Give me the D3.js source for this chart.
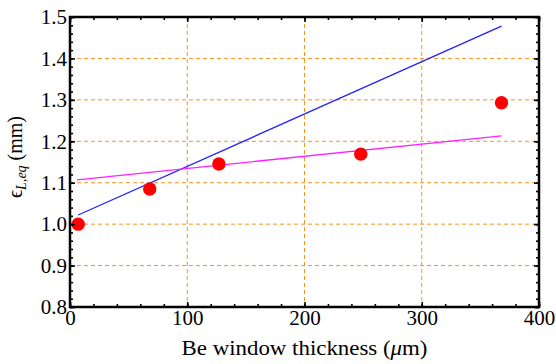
<!DOCTYPE html>
<html><head><meta charset="utf-8">
<script src="https://cdn.jsdelivr.net/npm/d3@7"></script>
<style>body{margin:0;background:#fff}svg{display:block}</style>
</head><body>
<svg id="c" width="556" height="364"></svg>
<script>
const pointX = [7, 68, 127, 248, 368];
const pointY = [1.0, 1.085, 1.145, 1.169, 1.293];
const blueLine = [[7, 1.022], [368, 1.478]];
const magentaLine = [[6, 1.107], [368, 1.213]];
const xTicks = [0, 100, 200, 300, 400];
const yTicks = [0.8, 0.9, 1.0, 1.1, 1.2, 1.3, 1.4, 1.5];
const xGrid = [100, 200, 300];
const yGrid = [0.9, 1.0, 1.1, 1.2, 1.3, 1.4];

const svg = d3.select("#c");
const L = 70, R = 539, T = 17, B = 307;
const x = d3.scaleLinear().domain([0, 400]).range([L, R]);
const y = d3.scaleLinear().domain([0.8, 1.5]).range([B, T]);
const font = "'Liberation Serif', 'Times New Roman', serif";
const grid = "#f7941d";

// grid
svg.append("g").selectAll("line").data(xGrid).join("line")
  .attr("x1", d => x(d)).attr("x2", d => x(d)).attr("y1", T).attr("y2", B)
  .attr("stroke", grid).attr("stroke-width", 1).attr("stroke-dasharray", "4,3");
svg.append("g").selectAll("line").data(yGrid).join("line")
  .attr("y1", d => y(d)).attr("y2", d => y(d)).attr("x1", L).attr("x2", R)
  .attr("stroke", grid).attr("stroke-width", 1).attr("stroke-dasharray", "4,3");

// lines
const line = d3.line().x(d => x(d[0])).y(d => y(d[1]));
svg.append("path").datum(blueLine).attr("d", line).attr("stroke", "#2222ff").attr("stroke-width", 1.3).attr("fill", "none");
svg.append("path").datum(magentaLine).attr("d", line).attr("stroke", "#ff22ff").attr("stroke-width", 1.3).attr("fill", "none");

// points
svg.append("g").selectAll("circle").data(pointX.map((v, i) => [v, pointY[i]])).join("circle")
  .attr("cx", d => x(d[0])).attr("cy", d => y(d[1])).attr("r", 6.7).attr("fill", "#ff0000");

// axes with inward ticks
function styleAxis(g) {
  g.select(".domain").remove();
  g.selectAll("line").attr("stroke", "#000").attr("stroke-width", 1.6);
  g.selectAll("text").attr("font-family", font).attr("font-size", 21).attr("fill", "#000");
}
const xMinor = d3.range(0, 401, 20);
const yMinor = d3.range(0, 36).map(i => 0.8 + i * 0.02);

svg.append("g").attr("transform", `translate(0,${B})`)
  .call(d3.axisBottom(x).tickValues(xTicks).tickSize(-5).tickPadding(3).tickFormat(d3.format("d")))
  .call(styleAxis);
svg.append("g").attr("transform", `translate(0,${B})`)
  .call(d3.axisBottom(x).tickValues(xMinor).tickSize(-3).tickFormat(""))
  .call(styleAxis);
svg.append("g").attr("transform", `translate(0,${T})`)
  .call(d3.axisTop(x).tickValues(xTicks).tickSize(-5).tickFormat(""))
  .call(styleAxis);
svg.append("g").attr("transform", `translate(0,${T})`)
  .call(d3.axisTop(x).tickValues(xMinor).tickSize(-3).tickFormat(""))
  .call(styleAxis);

svg.append("g").attr("transform", `translate(${L},0)`)
  .call(d3.axisLeft(y).tickValues(yTicks).tickSize(-5).tickPadding(3).tickFormat(d3.format(".1f")))
  .call(styleAxis);
svg.append("g").attr("transform", `translate(${L},0)`)
  .call(d3.axisLeft(y).tickValues(yMinor).tickSize(-3).tickFormat(""))
  .call(styleAxis);
svg.append("g").attr("transform", `translate(${R},0)`)
  .call(d3.axisRight(y).tickValues(yTicks).tickSize(-5).tickFormat(""))
  .call(styleAxis);
svg.append("g").attr("transform", `translate(${R},0)`)
  .call(d3.axisRight(y).tickValues(yMinor).tickSize(-3).tickFormat(""))
  .call(styleAxis);

// frame
svg.append("rect").attr("x", L).attr("y", T).attr("width", R - L).attr("height", B - T)
  .attr("fill", "none").attr("stroke", "#000").attr("stroke-width", 2.5);

// axis titles
const xt = svg.append("text").attr("x", (L + R) / 2).attr("y", 355).attr("text-anchor", "middle")
  .attr("font-family", font).attr("font-size", 21).attr("fill", "#000")
  .attr("textLength", 246).attr("lengthAdjust", "spacingAndGlyphs");
xt.append("tspan").text("Be window thickness (");
xt.append("tspan").attr("font-style", "italic").text("μ");
xt.append("tspan").text("m)");

const yt = svg.append("text").attr("transform", "translate(22,157) rotate(-90)").attr("text-anchor", "middle")
  .attr("font-family", font).attr("font-size", 20).attr("fill", "#000");
yt.append("tspan").text("ϵ");
yt.append("tspan").attr("font-style", "italic").attr("font-size", 14).attr("dy", 4).text("L,eq");
yt.append("tspan").attr("dy", -4).text(" (mm)");
</script>
</body></html>
